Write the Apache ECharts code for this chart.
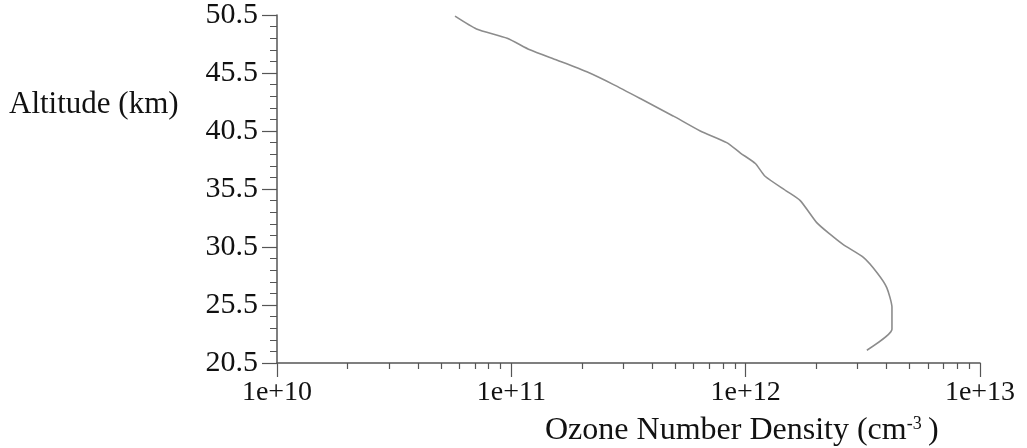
<!DOCTYPE html>
<html lang="en">
<head>
  <meta charset="UTF-8">
  <title>Ozone profile</title>
  <script src="https://cdn.jsdelivr.net/npm/echarts@6/dist/echarts.min.js"></script>
  <style>
    html, body { margin: 0; padding: 0; background: #fff; }
    #main { width: 1027px; height: 448px; }
  </style>
</head>
<body>
<div id="main"></div>
<script type="text/javascript">
  // altitude (km) and ozone number density (cm^-3)
  var altitude = [21.6, 23.4, 25.3, 27.0, 28.3, 29.6, 30.7, 31.6, 32.6, 34.5, 35.3, 36.6, 37.7,
                  38.6, 39.5, 40.5, 41.8, 43.3, 44.5, 45.6, 46.6, 47.5, 48.5, 49.3, 50.4];
  var density = [3.29e12, 4.21e12, 4.21e12, 4.0e12, 3.63e12, 3.18e12, 2.61e12, 2.29e12, 2.01e12,
                 1.71e12, 1.50e12, 1.21e12, 1.10e12, 9.5e11, 8.3e11, 6.4e11, 4.9e11, 3.55e11,
                 2.73e11, 2.10e11, 1.57e11, 1.20e11, 9.6e10, 7.1e10, 5.75e10];
  var minorX = [2e10, 3e10, 4e10, 5e10, 6e10, 7e10, 8e10, 9e10,
                2e11, 3e11, 4e11, 5e11, 6e11, 7e11, 8e11, 9e11,
                2e12, 3e12, 4e12, 5e12, 6e12, 7e12, 8e12, 9e12];

  var serif = 'Liberation Serif';
  var axisColor = '#555';

  var points = altitude.map(function (a, i) { return [density[i], a]; });

  var chartDom = document.getElementById('main');
  var myChart = echarts.init(chartDom);
  var option;

  option = {
    animation: false,
    grid: {
      left: 277,
      right: 47,
      top: 13,
      bottom: 85
    },
    xAxis: [
      {
        type: 'log',
        logBase: 10,
        min: 1e10,
        max: 1e13,
        position: 'bottom',
        axisLine: { lineStyle: { color: axisColor, width: 1.5 } },
        axisTick: { length: 14, lineStyle: { color: axisColor, width: 1.2 } },
        splitLine: { show: false },
        axisLabel: {
          margin: 16,
          color: '#111',
          fontFamily: serif,
          fontSize: 28,
          formatter: function (v) {
            return '1e+' + Math.round(Math.log10(v));
          }
        }
      },
      {
        type: 'log',
        logBase: 10,
        min: 1e10,
        max: 1e13,
        position: 'bottom',
        axisLine: { show: false },
        axisTick: { length: 6, customValues: minorX, lineStyle: { color: axisColor, width: 1.2 } },
        axisLabel: { show: false },
        splitLine: { show: false }
      }
    ],
    yAxis: {
      type: 'value',
      min: 20.5,
      max: 50.5,
      interval: 5,
      axisLine: { show: true, lineStyle: { color: axisColor, width: 1.5 } },
      axisTick: { show: true, length: 15, lineStyle: { color: axisColor, width: 1.2 } },
      minorTick: { show: true, splitNumber: 5, length: 7, lineStyle: { color: axisColor, width: 1 } },
      splitLine: { show: false },
      axisLabel: {
        margin: 19,
        color: '#111',
        fontFamily: serif,
        fontSize: 30,
        formatter: function (v) { return v.toFixed(1); }
      }
    },
    graphic: [
      {
        type: 'text',
        left: 9,
        top: 89,
        style: {
          text: 'Altitude (km)',
          font: '31px "Liberation Serif"',
          fill: '#111'
        }
      },
      {
        type: 'text',
        left: 545,
        top: 415,
        style: {
          text: 'Ozone Number Density (cm{sup|-3}\u2009)',
          font: '32px "Liberation Serif"',
          fill: '#111',
          rich: {
            sup: {
              fontFamily: serif,
              fontSize: 18,
              verticalAlign: 'top',
              padding: [0, 0, 14, 0],
              fill: '#111'
            }
          }
        }
      }
    ],
    series: [
      {
        name: 'Ozone',
        type: 'line',
        xAxisIndex: 0,
        data: points,
        showSymbol: false,
        symbol: 'none',
        smooth: 0.2,
        lineStyle: { color: '#8c8c8c', width: 1.6 }
      }
    ]
  };

  option && myChart.setOption(option);
</script>
</body>
</html>
